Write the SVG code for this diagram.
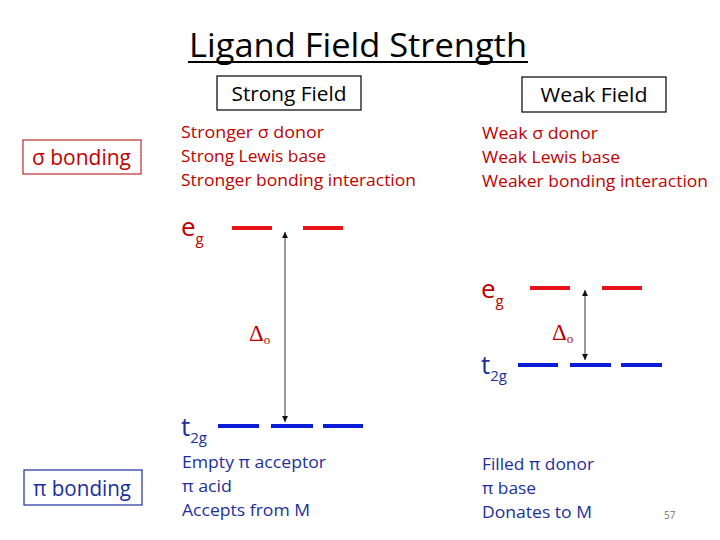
<svg xmlns="http://www.w3.org/2000/svg" width="720" height="540" viewBox="0 0 720 540">
<defs>
<style>
text{font-family:"Open Sans","Liberation Sans",sans-serif}
.red{fill:#c00000}
.blue{fill:#1c2f9c}
.lbl{font-size:17px}
.box{fill:none;stroke-width:1.2}
.rbar{stroke:#e8141c;stroke-width:4}
.bbar{stroke:#0a1ed8;stroke-width:4}
.arr{stroke:#555;stroke-width:1.2;marker-start:url(#ah);marker-end:url(#ah)}
.delta{font-family:"Liberation Serif",serif;font-size:23px}
</style>
<marker id="ah" viewBox="0 0 10 10" refX="10" refY="5" markerWidth="8" markerHeight="6" orient="auto-start-reverse" markerUnits="userSpaceOnUse">
<path d="M0,0 L10,5 L0,10 z" fill="#111"/>
</marker>
</defs>
<rect width="720" height="540" fill="#fff"/>
<g id="title">
<text x="358" y="57" text-anchor="middle" font-size="32" fill="#000" textLength="338" lengthAdjust="spacingAndGlyphs">Ligand Field Strength</text>
<line x1="188" y1="62" x2="528" y2="62" stroke="#000" stroke-width="2"/>
</g>
<g id="strong-field">
<rect class="box" x="217" y="76" width="144" height="34" stroke="#000"/>
<text x="289" y="101" text-anchor="middle" font-size="20" textLength="115" lengthAdjust="spacingAndGlyphs">Strong Field</text>
</g>
<g id="weak-field">
<rect class="box" x="522" y="77" width="144" height="35" stroke="#000"/>
<text x="594" y="102" text-anchor="middle" font-size="20" textLength="107" lengthAdjust="spacingAndGlyphs">Weak Field</text>
</g>
<g id="sigma-bonding">
<rect class="box" x="23" y="140" width="118" height="34" stroke="#c0282d"/>
<text x="32" y="165" font-size="21" class="red" textLength="99" lengthAdjust="spacingAndGlyphs">σ bonding</text>
</g>
<g id="strong-sigma">
<text class="lbl red" x="181" y="138" textLength="143" lengthAdjust="spacingAndGlyphs">Stronger σ donor</text>
<text class="lbl red" x="181" y="162" textLength="145" lengthAdjust="spacingAndGlyphs">Strong Lewis base</text>
<text class="lbl red" x="181" y="186" textLength="235" lengthAdjust="spacingAndGlyphs">Stronger bonding interaction</text>
</g>
<g id="weak-sigma">
<text class="lbl red" x="482" y="139" textLength="116" lengthAdjust="spacingAndGlyphs">Weak σ donor</text>
<text class="lbl red" x="482" y="163" textLength="138" lengthAdjust="spacingAndGlyphs">Weak Lewis base</text>
<text class="lbl red" x="482" y="187" textLength="226" lengthAdjust="spacingAndGlyphs">Weaker bonding interaction</text>
</g>
<g id="strong-eg">
<text x="181" y="236" font-size="26" class="red">e<tspan font-size="15" dy="8">g</tspan></text>
<line class="rbar" x1="232" y1="228" x2="272" y2="228"/>
<line class="rbar" x1="303" y1="228" x2="343" y2="228"/>
</g>
<g id="strong-t2g">
<text x="181" y="436" font-size="26" class="blue">t<tspan font-size="15" dy="7">2g</tspan></text>
<line class="bbar" x1="218" y1="426" x2="259" y2="426"/>
<line class="bbar" x1="271" y1="426" x2="313" y2="426"/>
<line class="bbar" x1="323" y1="426" x2="363" y2="426"/>
</g>
<g id="strong-delta">
<text x="249" y="341" class="delta red">Δ<tspan font-size="13" dy="3">o</tspan></text>
</g>
<g id="weak-eg">
<text x="481" y="298" font-size="26" class="red">e<tspan font-size="15" dy="8">g</tspan></text>
<line class="rbar" x1="530" y1="288" x2="570" y2="288"/>
<line class="rbar" x1="602" y1="288" x2="642" y2="288"/>
</g>
<g id="weak-t2g">
<text x="481" y="374" font-size="26" class="blue">t<tspan font-size="15" dy="7">2g</tspan></text>
<line class="bbar" x1="518" y1="365" x2="558" y2="365"/>
<line class="bbar" x1="570" y1="365" x2="611" y2="365"/>
<line class="bbar" x1="621" y1="365" x2="662" y2="365"/>
</g>
<g id="weak-delta">
<text x="552" y="340" class="delta red">Δ<tspan font-size="13" dy="3">o</tspan></text>
</g>
<g id="connectors">
<line class="arr" x1="285" y1="232" x2="285" y2="422"/>
<line class="arr" x1="585" y1="290" x2="585" y2="360"/>
</g>
<g id="pi-bonding">
<rect class="box" x="24" y="470" width="118" height="35" stroke="#1c2f9c"/>
<text x="33" y="496" font-size="21" class="blue" textLength="98" lengthAdjust="spacingAndGlyphs">π bonding</text>
</g>
<g id="strong-pi">
<text class="lbl blue" x="182" y="468" textLength="144" lengthAdjust="spacingAndGlyphs">Empty π acceptor</text>
<text class="lbl blue" x="182" y="492" textLength="50" lengthAdjust="spacingAndGlyphs">π acid</text>
<text class="lbl blue" x="182" y="516" textLength="128" lengthAdjust="spacingAndGlyphs">Accepts from M</text>
</g>
<g id="weak-pi">
<text class="lbl blue" x="482" y="470" textLength="112" lengthAdjust="spacingAndGlyphs">Filled π donor</text>
<text class="lbl blue" x="482" y="494" textLength="54" lengthAdjust="spacingAndGlyphs">π base</text>
<text class="lbl blue" x="482" y="518" textLength="110" lengthAdjust="spacingAndGlyphs">Donates to M</text>
</g>
<g id="page-number">
<text x="664" y="519" font-size="10" fill="#777">57</text>
</g>
</svg>
